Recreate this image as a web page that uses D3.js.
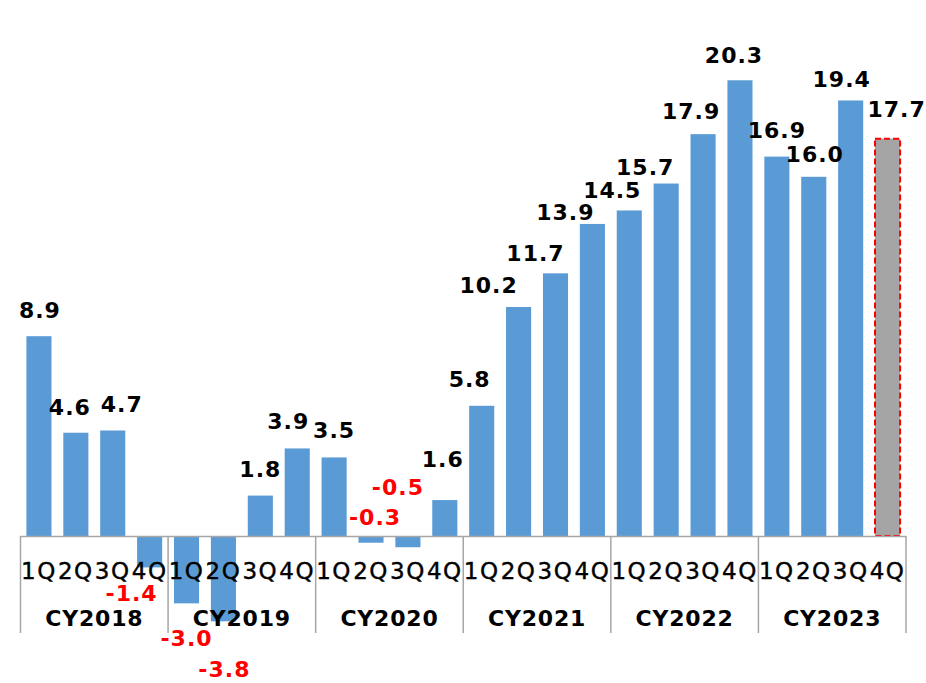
<!DOCTYPE html>
<html>
<head>
<meta charset="utf-8">
<script src="https://cdn.jsdelivr.net/npm/d3@7"></script>
<style>
  html, body { margin: 0; padding: 0; background: #fff; }
  svg { display: block; }
  text { font-family: "DejaVu Sans", Verdana, sans-serif; }
</style>
</head>
<body>
<svg id="chart" width="926" height="683"></svg>
<script>
// ---- data ----
const years = ["CY2018", "CY2019", "CY2020", "CY2021", "CY2022", "CY2023"];
const quarters = ["1Q", "2Q", "3Q", "4Q"];
const values = [
  8.9, 4.6, 4.7, -1.4,
  -3.0, -3.8, 1.8, 3.9,
  3.5, -0.3, -0.5, 1.6,
  5.8, 10.2, 11.7, 13.9,
  14.5, 15.7, 17.9, 20.3,
  16.9, 16.0, 19.4, 17.7
];
const forecastIndex = [23];

// ---- label nudges (layout, px relative to bar tip) ----
const labelDx = [1, -6, 9, -18, 0, 1, 0, -9, 0, 4, -10, -2, -12, -30, -20, -27, -17, -21, -12, -6, 0, 1, -9, 9];
const labelDy = [-26, -26, -26, 26, 35, 48, -27, -27, -27, -26, -60, -41, -27, -22, -20, -12, -20, -16, -23, -25, -27, -23, -21, -30];

const categories = [];
years.forEach(y => quarters.forEach(q => categories.push({ key: y + "-" + q, year: y, q: q })));
const data = categories.map((c, i) => ({ ...c, value: values[i], i }));

const svg = d3.select("#chart");
const left = 20.5, right = 906;
const zeroY = 536, pxPerUnit = 22.45;

const x = d3.scaleBand()
  .domain(data.map(d => d.key))
  .range([left, right])
  .paddingInner(0.32)
  .paddingOuter(0.16);

const yMin = -5, yMax = 22;
const y = d3.scaleLinear()
  .domain([yMin, yMax])
  .range([zeroY - yMin * pxPerUnit, zeroY - yMax * pxPerUnit]);

// bars
svg.append("g").selectAll("rect")
  .data(data)
  .join("rect")
  .attr("x", d => x(d.key))
  .attr("width", x.bandwidth())
  .attr("y", d => Math.min(y(d.value), y(0)))
  .attr("height", d => Math.abs(y(d.value) - y(0)))
  .attr("fill", d => forecastIndex.includes(d.i) ? "#A5A5A5" : "#5B9BD5")
  .attr("stroke", d => forecastIndex.includes(d.i) ? "#FF0000" : "none")
  .attr("stroke-width", d => forecastIndex.includes(d.i) ? 2 : 0)
  .attr("stroke-dasharray", d => forecastIndex.includes(d.i) ? "6,3" : null);

// axis
const axisG = svg.append("g")
  .attr("transform", `translate(0,${y(0)})`)
  .call(d3.axisBottom(x).tickSize(0).tickSizeOuter(0).tickFormat(k => k.split("-")[1]));
axisG.select(".domain").attr("stroke", "#A6A6A6").attr("stroke-width", 1.5)
  .attr("d", `M${left},0.5H${right}`);
axisG.selectAll(".tick text")
  .attr("y", 35)
  .attr("dy", "0.36em")
  .attr("font-size", 23)
  .attr("letter-spacing", 1.5)
  .attr("fill", "#000")
  .attr("stroke", "#000")
  .attr("stroke-width", 0.4)
  .attr("font-family", "DejaVu Sans, Verdana, sans-serif");

// group separators
const step = x.step();
const boundaries = years.map((yr, gi) => x(yr + "-1Q") - x.paddingOuter() * step).concat([right]);
boundaries[0] = left;
svg.append("g").selectAll("line")
  .data(boundaries)
  .join("line")
  .attr("x1", d => d).attr("x2", d => d)
  .attr("y1", y(0)).attr("y2", 633)
  .attr("stroke", "#A6A6A6").attr("stroke-width", 1.5);

// year labels
svg.append("g").selectAll("text")
  .data(years)
  .join("text")
  .attr("x", (yr, gi) => (boundaries[gi] + boundaries[gi + 1]) / 2)
  .attr("y", 626)
  .attr("text-anchor", "middle")
  .attr("font-size", 22)
  .attr("font-weight", "bold")
  .attr("letter-spacing", 0.8)
  .attr("fill", "#000")
  .text(d => d);

// value labels
svg.append("g").selectAll("text")
  .data(data)
  .join("text")
  .attr("x", d => x(d.key) + x.bandwidth() / 2 + labelDx[d.i])
  .attr("y", d => y(d.value) + labelDy[d.i])
  .attr("dy", "0.36em")
  .attr("text-anchor", "middle")
  .attr("font-size", 22)
  .attr("font-weight", "bold")
  .attr("letter-spacing", 1)
  .attr("fill", d => d.value < 0 ? "#FF0000" : "#000")
  .text(d => d.value.toFixed(1));
</script>
</body>
</html>
